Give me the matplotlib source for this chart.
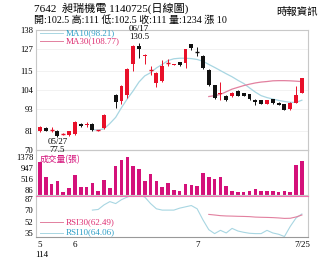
import numpy as np
import matplotlib.pyplot as plt

plt.rcParams['font.family'] = ['Liberation Serif', 'Noto Sans CJK TC']

# daily OHLC (index 0 = 5/22 ... 45 = 7/25)
opens = [80.5, 82.5, 81.3, 81, 79, 78.5, 79, 85, 84, 85, 81, 82.5, np.nan, 101, 98, 101,
         118.5, 129, 123.5, 115, 108, 109, 119, 118.2, 119.7, 119.5, 129.8, 125.8, 123.5, 115.5,
         106.8, 101.5, 100.8, 100.5, 103.5, 102.3, 101.5, 98.5, 98.3, 96, 98.7, 96.8, 95.8, 93,
         96.8, 102.5]
highs = [83.5, 83, 83, 81.5, 79.5, 80.5, 86.5, 85.5, 86, 85.5, 81.5, 90.5, np.nan, 101.5, 106.8, 116.5,
         129.5, 130.5, 124.5, 117.5, 114, 121, 121.5, 119, 120, 127.5, 130, 128.2, 124, 116,
         107, 108.5, 101, 103, 104, 102.5, 101.8, 98.8, 98.5, 98.5, 99, 97, 96, 97,
         106, 111]
lows = [80, 80.5, 80, 77.5, 78.5, 78, 78.5, 83, 83, 81, 80.5, 82, np.nan, 94, 96, 99.5,
        114.5, 122, 119, 112.5, 105.5, 108.5, 117.5, 118, 117.8, 116.5, 126.5, 123, 116, 106.5,
        99, 98.5, 98, 100, 100.5, 100.5, 98.5, 95.5, 95.8, 95.8, 96.3, 95.3, 92.5, 92.8,
        96.5, 102.5]
closes = [83, 81, 81.5, 78, 79, 80.5, 86, 83.5, 85, 81.5, 81.1, 90, np.nan, 97, 106.5, 116,
          129, 127.5, 124, 115.3, 113.8, 117.5, 119.2, 118.7, 118, 127.2, 128, 125.6, 116.5, 107,
          99.5, 102.3, 98.5, 102.5, 100.8, 100.8, 98.8, 97, 96, 98.3, 96.5, 95.5, 92.8, 96.8,
          101, 111]
volumes = [1190, 614, 308, 455, 20, 149, 666, 208, 208, 356, 60, 492, 172, 1035, 1278, 1378,
           1035, 924, 455, 700, 455, 208, 371, 68, 40, 334, 271, 245, 762, 614, 518, 614,
           245, 50, 20, 20, 30, 110, 30, 30, 40, 15, 40, 15, 1070, 1234]
ma10 = [np.nan] * 9 + [81.5, 81.3, 82, 85, 88.5, 94, 99, 103.5, 108.5, 112, 113.8, 116.5, 118.5,
                       120.7, 121.7, 122, 122, 121.8, 121.3, 120.3, 118.5, 116.8, 115, 113.2, 111.5,
                       109.5, 107.7, 105.2, 102.8, 100.8, 99.7, 98.9, 98.1, 97.5, 97, 97, 98.21]
ma30 = [np.nan] * 29 + [100.3, 100.8, 101.5, 103, 104.5, 105.5, 106.5, 107.3, 108, 108.5, 108.8,
                        109.2, 109.3, 109.3, 109.2, 109, 108.77]
rsi10 = [np.nan] * 9 + [70, 71, 78, 83, 80, 86, 90, 93, 93, 90, 80, 72, 70, 70, 70, 73, 75, 77,
                        72, 55, 40, 34, 39, 35, 42, 38, 36, 34.5, 34, 34, 39, 35, 33, 29.5, 45, 58,
                        64.06]
rsi30 = [np.nan] * 29 + [63.4, 62.5, 61.5, 61, 60.8, 60.5, 60.3, 60, 59.3, 59, 58.8, 58.5, 58,
                         57.3, 57.5, 59.5, 62.49]

price_ticks = [70, 81, 93, 104, 115, 127, 138]
vol_ticks = [86, 516, 947, 1378]
rsi_ticks = [35, 52, 70, 87]
month_pos = [0, 6, 27, 45]
month_lab = ['5', '6', '7', '7/25']

RED = '#e8102a'
BLK = '#111111'
VOLC = '#d4117a'
MA10C = '#a8d6e2'
MA30C = '#e2809f'
GRID = '#c8c8c8'

fig = plt.figure(figsize=(3.3, 2.64), dpi=100)
L, W = 36 / 330, 272 / 330
ax = fig.add_axes([L, 1 - 150 / 264, W, 120 / 264])
axv = fig.add_axes([L, 1 - 195 / 264, W, 45 / 264])
axr = fig.add_axes([L, 1 - 237 / 264, W, 41 / 264])
ax.set_zorder(3)
ax.patch.set_alpha(0)

x = np.arange(len(closes))
xlim = (-0.69, 46.05)

for a in (ax, axv, axr):
    a.set_xlim(*xlim)
    a.set_xticks([])
    a.tick_params(axis='y', length=0, pad=2, labelsize=6.2)
    for s in a.spines.values():
        s.set_color(GRID)
        s.set_linewidth(0.8)

# candles
for i in x:
    o, h, l, c = opens[i], highs[i], lows[i], closes[i]
    if np.isnan(o):
        continue
    col = RED if c >= o else BLK
    ax.vlines(i, l, h, color=col, lw=0.7, zorder=2)
    if abs(c - o) < 0.4:
        ax.hlines(c, i - 0.35, i + 0.35, color=col, lw=1.0, zorder=3)
    else:
        ax.bar(i, abs(c - o), bottom=min(o, c), width=0.68, color=col, lw=0, zorder=3)

ax.plot(x, ma10, color=MA10C, lw=0.9, zorder=1)
ax.plot(x, ma30, color=MA30C, lw=0.9, zorder=1)
ax.set_ylim(70, 138)
ax.set_yticks(price_ticks)
for t in price_ticks:
    ax.axhline(t, color='#f0f0f0', lw=0.6, zorder=0)

# legend lines + text
ax.plot([0, 4], [136.2, 136.2], color=MA10C, lw=0.7)
ax.plot([0, 4], [131.6, 131.6], color=MA30C, lw=0.7)
ax.text(4.5, 136.2, 'MA10(98.21)', color='#2f9fc6', fontsize=6.5, va='center')
ax.text(4.5, 131.6, 'MA30(108.77)', color='#de2f72', fontsize=6.5, va='center')

# high / low annotations
ax.text(17, 138.6, '06/17', fontsize=6.3, ha='center', va='center', clip_on=False)
ax.text(17, 133.9, '130.5', fontsize=6.3, ha='center', va='center')
ax.text(3, 74.3, '05/27', fontsize=6.3, ha='center', va='center')
ax.text(3, 70.0, '77.5', fontsize=6.3, ha='center', va='center', clip_on=False)

# volume
vb = -110
axv.bar(x, np.array(volumes) - vb, bottom=vb, width=0.62, color=VOLC, lw=0)
axv.set_ylim(vb, 1652)
axv.set_yticks(vol_ticks)
axv.text(0, 1290, '成交量(張)', color=VOLC, fontsize=6.3, va='center',
         family=['Noto Sans CJK TC'])

# RSI
axr.plot(x, rsi10, color=MA10C, lw=0.8)
axr.plot(x, rsi30, color=MA30C, lw=0.8)
axr.set_ylim(28.8, 91.6)
axr.set_yticks(rsi_ticks)
axr.spines['top'].set_color('#f070b0')
axr.spines['top'].set_linestyle((0, (1, 1)))
axr.spines['bottom'].set_color('#999999')
axr.spines['bottom'].set_linestyle((0, (1, 1)))
axr.plot([0, 4], [51.5, 51.5], color=MA30C, lw=0.7)
axr.plot([0, 4], [35.5, 35.5], color=MA10C, lw=0.7)
axr.text(4.5, 51.5, 'RSI30(62.49)', color='#de2f72', fontsize=6.5, va='center')
axr.text(4.5, 35.5, 'RSI10(64.06)', color='#2f9fc6', fontsize=6.5, va='center')
axr.set_xticks(month_pos)
axr.set_xticklabels(month_lab, fontsize=6.5)
axr.tick_params(axis='x', length=0, pad=3)
axr.text(0.35, -0.34, '114', transform=axr.get_xaxis_transform(), fontsize=6.5,
         ha='center', va='top')

# header
fig.text(34 / 330, 1 - 8 / 264, '7642  昶瑞機電 1140725(日線圖)', fontsize=8, va='center')
fig.text(34 / 330, 1 - 20 / 264, '開:102.5 高:111 低:102.5 收:111 量:1234 漲 10',
         fontsize=7.2, va='center')
fig.text(318 / 330, 1 - 12 / 264, '時報資訊', fontsize=7.5, va='center', ha='right')

fig.savefig('out.png', dpi=100)
